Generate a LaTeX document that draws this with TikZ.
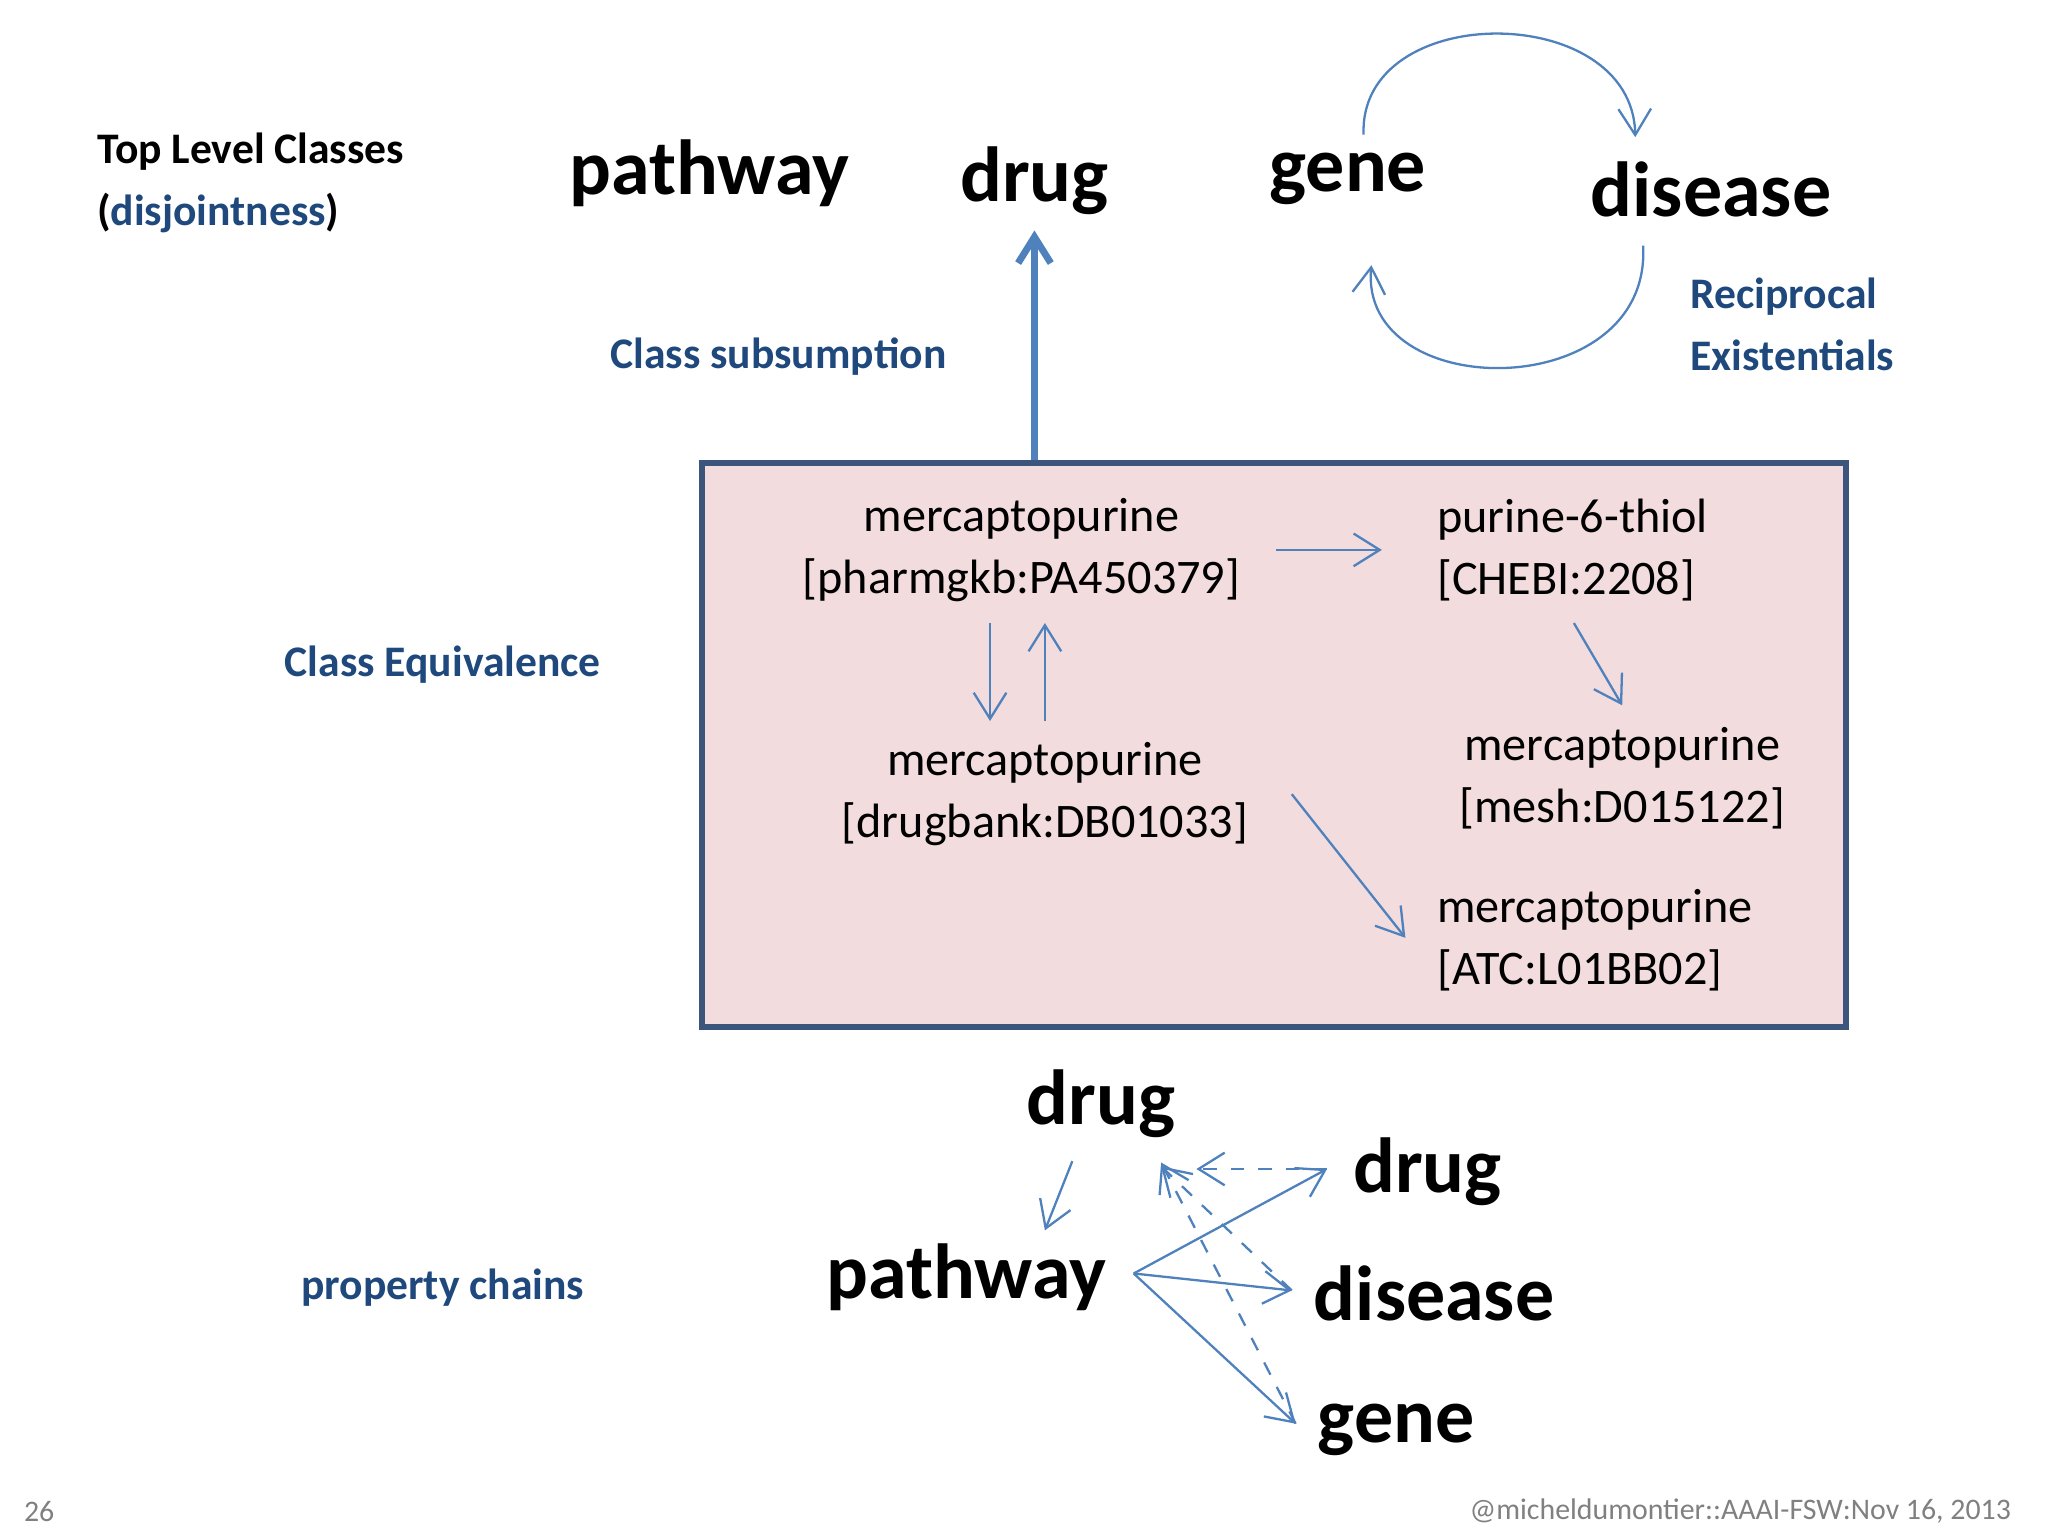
\documentclass[tikz,border=0pt]{standalone}
\usepackage{fontspec}
\setmainfont{Carlito}
\usetikzlibrary{arrows.meta}
\definecolor{arr}{RGB}{79,129,189}
\definecolor{lbl}{RGB}{31,73,125}
\definecolor{boxf}{RGB}{242,220,222}
\definecolor{boxd}{RGB}{60,85,125}
\begin{document}
\begin{tikzpicture}[x=0.1mm,y=-0.1mm,
  big/.style={font=\fontsize{17}{20}\selectfont\bfseries},
  body/.style={font=\fontsize{10.5}{13.5}\selectfont,align=left},
  lab/.style={font=\fontsize{9.5}{13.5}\selectfont\bfseries,text=lbl,align=left},
  con/.style={draw=arr,line width=0.5pt,-{Straight Barb[length=2mm,width=2.5mm]}},
  dcon/.style={con,dashed}]
\useasboundingbox (0,0) rectangle (1568,1176);
% top
\node[lab,text=black,anchor=west] (tlc) at (62,140) {Top Level Classes\\(\textcolor{lbl}{disjointness})};
\node[big] (pw) at (543,133) {pathway};
\node[big] (dr) at (792,138) {drug};
\node[big] (ge) at (1032,137) {gene};
\node[big] (di) at (1310,145) {disease};
\node[lab,anchor=west] (rec) at (1282,248) {Reciprocal\\Existentials};
\node[lab] (cs) at (596,273) {Class subsumption};
\coordinate (g1) at (1044,103); \coordinate (d1) at (1252,105);
\coordinate (d2) at (1258,188); \coordinate (g2) at (1050,203);
\draw[con] (g1) .. controls (1040,0) and (1250,0) .. (d1);
\draw[con] (d2) .. controls (1265,310) and (1040,310) .. (g2);
% box
\node[draw=boxd,fill=boxf,line width=1.4pt,minimum width=876*0.1mm,minimum height=432*0.1mm,anchor=north west,inner sep=0] (box) at (535,352) {};
\draw[con,line width=1.5pt] (box.north -| dr) -- (dr.south);
\node[lab] (ce) at (339,509) {Class Equivalence};
\node[body,align=center] (m1) at (782,421) {mercaptopurine\\{}[pharmgkb:PA450379]};
\node[body,anchor=west] (pu) at (1088,421) {purine-6-thiol\\{}[CHEBI:2208]};
\node[body,align=center] (me) at (1242,596) {mercaptopurine\\{}[mesh:D015122]};
\node[body,align=center] (db) at (800,608) {mercaptopurine\\{}[drugbank:DB01033]};
\node[body,anchor=west] (atc) at (1088,720) {mercaptopurine\\{}[ATC:L01BB02]};
\draw[con] (977,421) -- (1058,421);
\draw[con] (758,477) -- (758,552);
\draw[con] (800,552) -- (800,477);
\draw[con] (1205,477) -- (1242,540);
\draw[con] (989,608) -- (1076,718);
% bottom
\node[big] (bd) at (843,845) {drug};
\node[big] (bd2) at (1093,897) {drug};
\node[big] (bp) at (740,978) {pathway};
\node[big] (bdi) at (1098,990) {disease};
\node[big] (bg) at (1069,1095) {gene};
\node[lab] (pc) at (339,986) {property chains};
\coordinate (o) at (868,975);
\draw[con] (821,889) -- (800,942);
\draw[con] (o) -- (1016,895);
\draw[con] (o) -- (989,988);
\draw[con] (o) -- (992,1090);
\draw[dcon] (1016,895) -- (916,895);
\draw[dcon] (989,988) -- (889,893);
\draw[dcon] (992,1090) -- (889,890);
% footer
\node[font=\fontsize{6.5}{8}\selectfont,text=gray] (pn) at (30,1157) {26};
\node[font=\fontsize{6.5}{8}\selectfont,text=gray,anchor=east] (ft) at (1552,1157) {@micheldumontier::AAAI-FSW:Nov 16, 2013};
\end{tikzpicture}
\end{document}
